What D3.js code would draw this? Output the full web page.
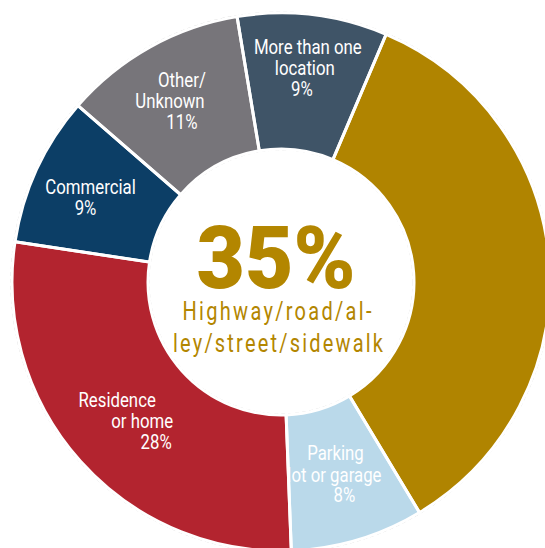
<!DOCTYPE html>
<html>
<head>
<meta charset="utf-8">
<script src="https://cdn.jsdelivr.net/npm/d3@7"></script>
<style>
  html, body { margin: 0; padding: 0; background: #fff; }
  svg { display: block; }
  text { font-family: Roboto, "Noto Sans", sans-serif; }
</style>
</head>
<body>
<svg id="chart" width="545" height="548"></svg>
<script>
// Where incidents took place (share of total, %)
const locations = ["Highway/road/alley/street/sidewalk", "Parking lot or garage", "Residence or home",
                   "Commercial", "Other/Unknown", "More than one location"];
const shares = [35, 8, 28, 9, 11, 9];
const colors = ["#B08400", "#BAD9EA", "#B3242F", "#0C3E66", "#77757A", "#3F5467"];
const labelLines = [
  null,
  ["Parking", "lot or garage", "8%"],
  ["Residence", "or home", "28%"],
  ["Commercial", "9%"],
  ["Other/", "Unknown", "11%"],
  ["More than one", "location", "9%"]
];
const centerValue = "35%";
const centerLines = ["Highway/road/al-", "ley/street/sidewalk"];

// Layout
const cx = 281, cy = 282;
const outerR = 269, innerR = 133, labelR = 201;
const startDeg = 23;
const condense = 0.84;
// per-line offsets from the label anchor [dx, dy]
const lineOffsets = [
  null,
  [[-3, -15], [-4, 7], [6, 27]],
  [[-14, -9], [11, 12], [25, 33]],
  [[-8, -4], [-13, 17]],
  [[-1, -20], [-13, 1], [-1, 22]],
  [[3, -28], [0, -7], [-3, 14]]
];
// rendered widths of the two caption lines under the big figure
const captionWidths = [189, 210];

const svg = d3.select("#chart");
const g = svg.append("g").attr("transform", `translate(${cx},${cy})`);

const rad = d => d * Math.PI / 180;
const pie = d3.pie().sort(null).value(d => d)
  .startAngle(rad(startDeg)).endAngle(rad(startDeg) + 2 * Math.PI);
const arcs = pie(shares);
const arc = d3.arc().innerRadius(innerR).outerRadius(outerR);
const labelArc = d3.arc().innerRadius(labelR).outerRadius(labelR);

// faint dashed rims
g.append("circle").attr("r", outerR + 1).attr("fill", "none")
  .attr("stroke", "#cfcfcf").attr("stroke-width", 1).attr("stroke-dasharray", "4,3");

const defs = svg.append("defs");
arcs.forEach((a, i) => {
  defs.append("clipPath").attr("id", "clip" + i)
    .append("path").attr("d", arc(a));
});

g.selectAll("path.slice").data(arcs).enter().append("path")
  .attr("class", "slice")
  .attr("d", arc)
  .attr("fill", (d, i) => colors[i]);

g.append("circle").attr("r", innerR - 1).attr("fill", "none")
  .attr("stroke", "#d4d4d4").attr("stroke-width", 1).attr("stroke-dasharray", "4,3");

// slice labels, clipped to their own slice
arcs.forEach((a, i) => {
  if (!labelLines[i]) return;
  const [ax, ay] = labelArc.centroid(a);
  const t = g.append("g").attr("clip-path", `url(#clip${i})`)
    .append("text")
    .attr("transform", `translate(${ax},${ay}) scale(${condense},1)`)
    .attr("text-anchor", "middle")
    .attr("fill", "#fff")
    .attr("font-size", 20);
  labelLines[i].forEach((line, j) => {
    const [dx, dy] = lineOffsets[i][j];
    t.append("tspan").attr("x", dx / condense).attr("y", dy).text(line);
  });
});

// white separators between slices, over the labels
g.selectAll("path.sep").data(arcs).enter().append("path")
  .attr("class", "sep")
  .attr("d", arc)
  .attr("fill", "none")
  .attr("stroke", "#fff")
  .attr("stroke-width", 3);

// center callout for the largest slice
g.append("text")
  .attr("transform", `translate(-5,6) scale(0.95,1)`)
  .attr("text-anchor", "middle")
  .attr("fill", "#B38600")
  .attr("font-size", 88)
  .attr("font-weight", 900)
  .text(centerValue);

const capScale = 0.8;
const cap = g.append("text")
  .attr("transform", `translate(-4,38) scale(${capScale},1)`)
  .attr("text-anchor", "middle")
  .attr("fill", "#B38600")
  .attr("font-size", 25);
centerLines.forEach((line, j) => {
  cap.append("tspan")
    .attr("x", (j === 0 ? 0 : 1) / capScale)
    .attr("y", j * 32)
    .attr("textLength", captionWidths[j] / capScale)
    .attr("lengthAdjust", "spacing")
    .text(line);
});
</script>
</body>
</html>
